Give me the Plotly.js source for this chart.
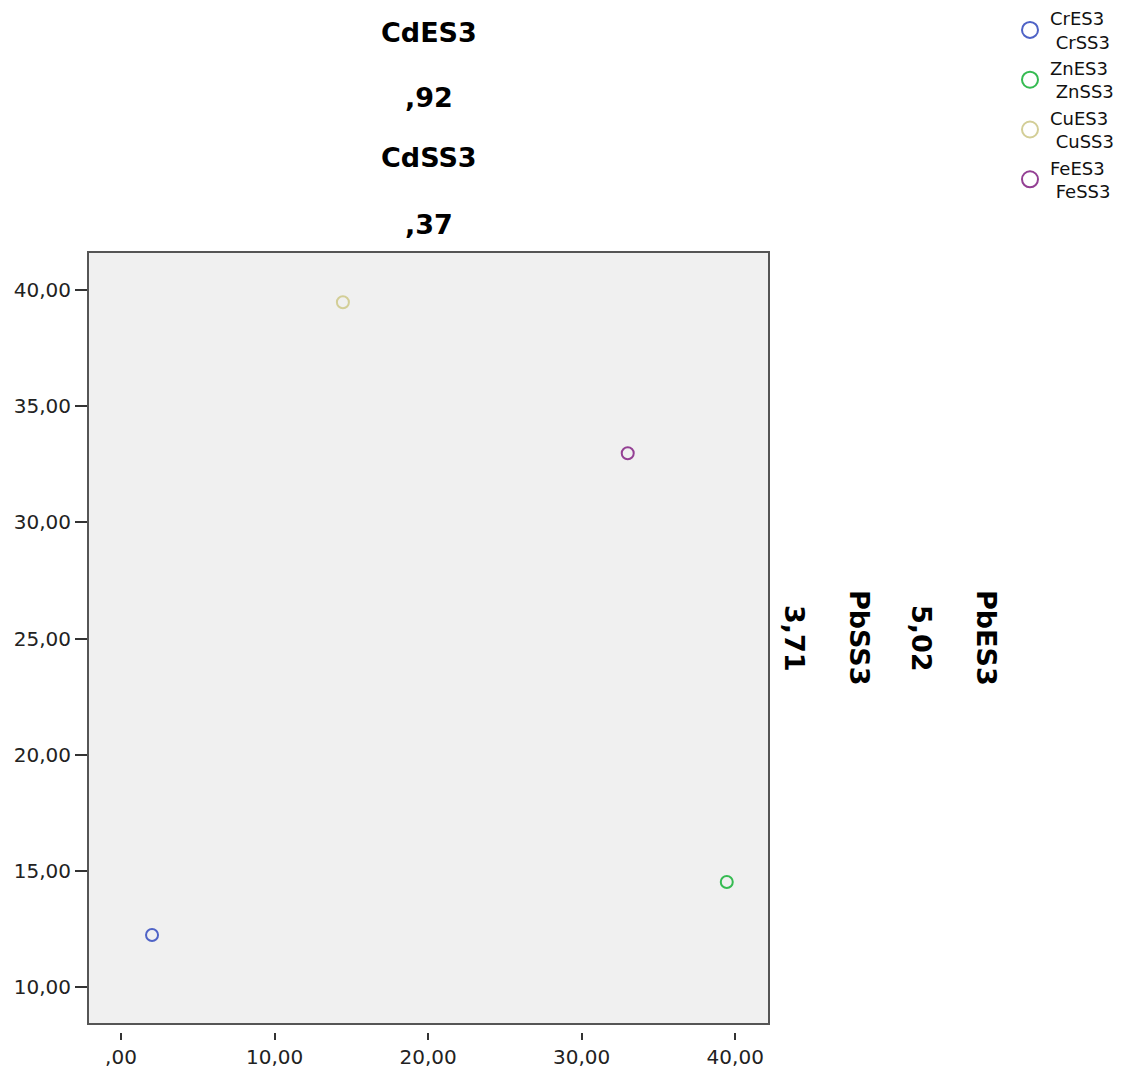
<!DOCTYPE html>
<html>
<head>
<meta charset="utf-8">
<script src="https://cdn.plot.ly/plotly-3.0.1.min.js"></script>
<style>html,body{margin:0;padding:0;background:#fff;}</style>
</head>
<body>
<div id="chart" style="width:1138px;height:1070px;"></div>
<script>
// Data
const elements = ['Cr', 'Zn', 'Cu', 'Fe'];
const es3Values = [2.02, 39.45, 14.45, 33.0];   // x: ...ES3
const ss3Values = [12.24, 14.52, 39.48, 32.98]; // y: ...SS3
const seriesColors = ['#4f63c6', '#36bb52', '#d3ce97', '#944094'];

const topTitles = ['CdES3', ',92', 'CdSS3', ',37'];
const rightTitles = ['PbES3', '5,02', 'PbSS3', '3,71'];

const xTickVals = [0, 10, 20, 30, 40];
const xTickText = [',00', '10,00', '20,00', '30,00', '40,00'];
const yTickVals = [10, 15, 20, 25, 30, 35, 40];
const yTickText = ['10,00', '15,00', '20,00', '25,00', '30,00', '35,00', '40,00'];

const traces = [];
elements.forEach((el, i) => traces.push({
  type: 'scatter',
  mode: 'markers',
  x: [es3Values[i]],
  y: [ss3Values[i]],
  name: el + 'ES3<br>\u00a0' + el + 'SS3',
  legendgroup: el,
  showlegend: false,
  marker: {symbol: 'circle-open', size: 12, color: seriesColors[i], line: {width: 2, color: seriesColors[i]}},
  hoverinfo: 'x+y+name'
}));
// legend entries (same series, larger legend symbol like the reference)
elements.forEach((el, i) => traces.push({
  type: 'scatter',
  mode: 'markers',
  x: [null],
  y: [null],
  name: el + 'ES3<br>\u00a0' + el + 'SS3',
  legendgroup: el,
  showlegend: true,
  marker: {symbol: 'circle-open', size: 16, color: seriesColors[i], line: {width: 2, color: seriesColors[i]}},
  hoverinfo: 'skip'
}));

// Layout geometry (pixels -> paper fractions)
const W = 1138, H = 1070;
const mL = 88, mR = 369, mT = 252, mB = 30;
const paperH = H - mT - mB;
const py = (p) => (H - mB - p) / paperH;
const px = (p) => (p - mL) / (W - mL - mR);

const topY = [33, 97, 158, 224];
const rightX = [987, 922, 860, 795];

const annotations = [];
topTitles.forEach((t, i) => annotations.push({
  text: t, xref: 'paper', yref: 'paper', x: 0.5, y: py(topY[i]),
  xanchor: 'center', yanchor: 'middle', showarrow: false,
  font: {family: 'DejaVu Sans', size: 27, color: '#000', weight: 'bold'}
}));
rightTitles.forEach((t, i) => annotations.push({
  text: t, xref: 'paper', yref: 'paper', x: px(rightX[i]), y: py(638),
  xanchor: 'center', yanchor: 'middle', showarrow: false, textangle: 90,
  font: {family: 'DejaVu Sans', size: 27, color: '#000', weight: 'bold'}
}));

const layout = {
  width: W, height: H,
  margin: {l: mL, r: mR, t: mT, b: mB, pad: 0, autoexpand: false},
  paper_bgcolor: '#ffffff',
  plot_bgcolor: '#f0f0f0',
  showlegend: true,
  legend: {
    x: px(1010), y: py(0), xanchor: 'left', yanchor: 'top',
    font: {family: 'DejaVu Sans', size: 18, color: '#111'},
    bgcolor: 'rgba(0,0,0,0)', itemwidth: 30, tracegroupgap: 0
  },
  xaxis: {
    range: [-2.15, 42.2], anchor: 'free', position: py(1032),
    tickmode: 'array', tickvals: xTickVals, ticktext: xTickText,
    ticks: 'outside', ticklen: 7, tickwidth: 2, tickcolor: '#333',
    showgrid: false, zeroline: false, showline: false,
    tickfont: {family: 'DejaVu Sans', size: 20, color: '#222'}
  },
  yaxis: {
    range: [8.41, 41.64], domain: [py(1024), 1],
    tickmode: 'array', tickvals: yTickVals, ticktext: yTickText,
    ticks: 'outside', ticklen: 12, tickwidth: 2, tickcolor: '#333',
    showgrid: false, zeroline: false, showline: false,
    tickfont: {family: 'DejaVu Sans', size: 20, color: '#222'}
  },
  shapes: [{
    type: 'rect', xref: 'x domain', yref: 'y domain', x0: 0, x1: 1, y0: 0, y1: 1,
    line: {color: '#555', width: 2}, fillcolor: 'rgba(0,0,0,0)', layer: 'above'
  }],
  annotations: annotations
};

Plotly.newPlot('chart', traces, layout, {displayModeBar: false, staticPlot: true});
</script>
</body>
</html>
